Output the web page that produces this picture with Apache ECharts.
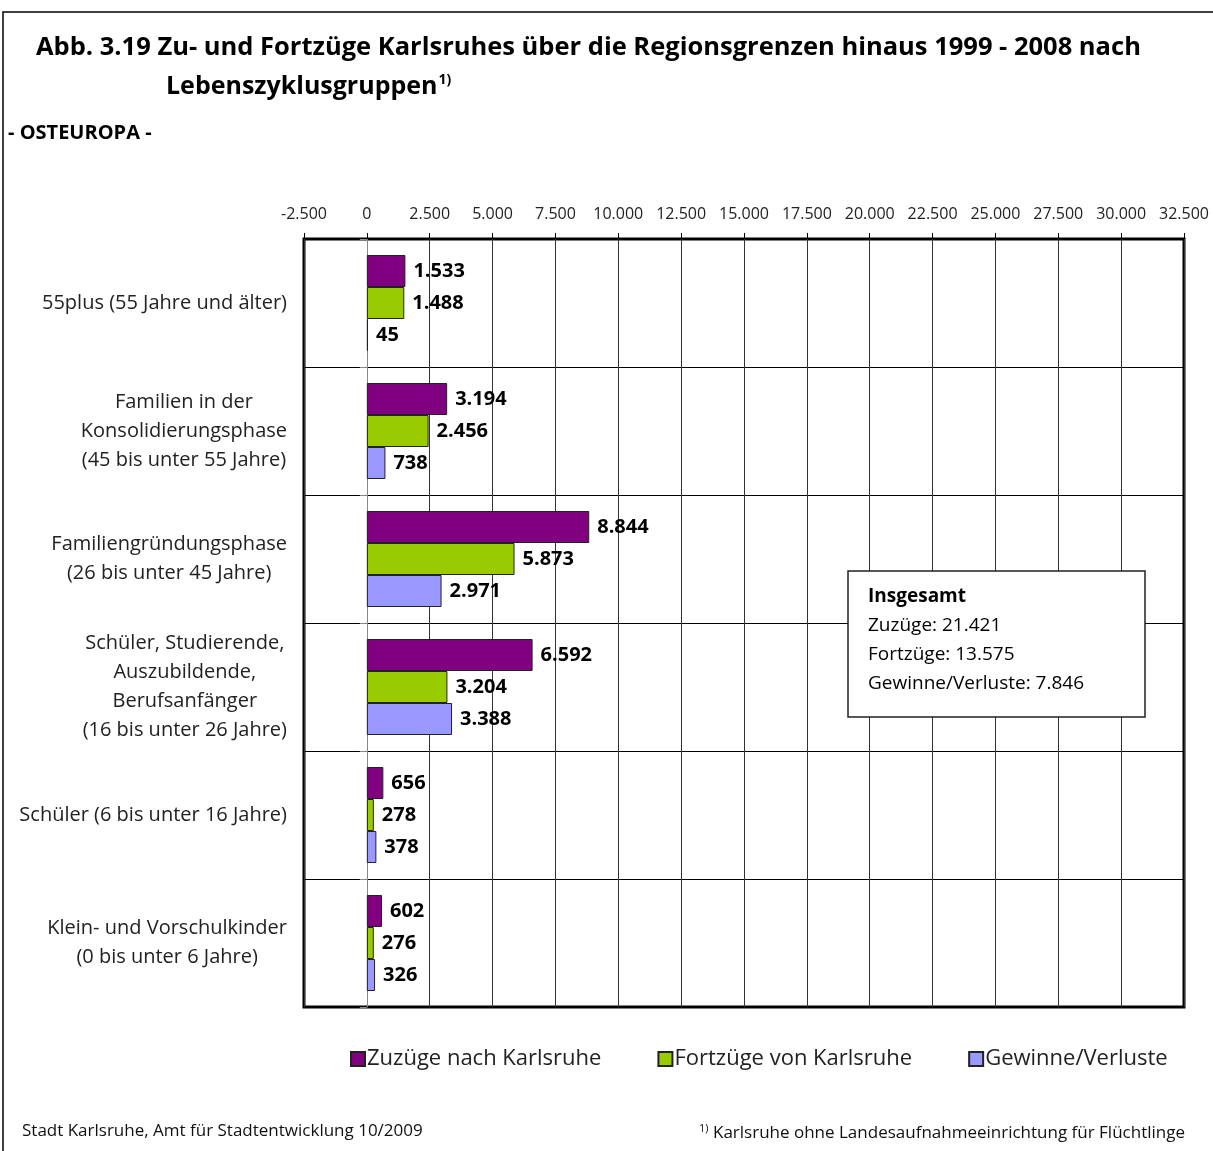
<!DOCTYPE html>
<html>
<head>
<meta charset="utf-8">
<script src="https://cdn.jsdelivr.net/npm/echarts@6/dist/echarts.min.js"></script>
<style>
  html, body { margin: 0; padding: 0; background: #fff; }
  #chart { width: 1213px; height: 1151px; }
</style>
</head>
<body>
<div id="chart"></div>
<script>
// Kategorien (von oben nach unten)
var categories = [
  '55plus (55 Jahre und älter)',
  'Familien in der\nKonsolidierungsphase\n(45 bis unter 55 Jahre)',
  'Familiengründungsphase\n(26 bis unter 45 Jahre)',
  'Schüler, Studierende,\nAuszubildende,\nBerufsanfänger\n(16 bis unter 26 Jahre)',
  'Schüler (6 bis unter 16 Jahre)',
  'Klein- und Vorschulkinder\n(0 bis unter 6 Jahre)'
];
var zuzuege  = [1533, 3194, 8844, 6592, 656, 602];
var fortzuege = [1488, 2456, 5873, 3204, 278, 276];
var saldo    = [45, 738, 2971, 3388, 378, 326];
var seriesNames = ['Zuzüge nach Karlsruhe', 'Fortzüge von Karlsruhe', 'Gewinne/Verluste'];
var xTicks = { min: -2500, max: 32500, step: 2500 };

function fmt(v) {
  var s = String(Math.abs(v)).replace(/\B(?=(\d{3})+(?!\d))/g, '.');
  return (v < 0 ? '-' : '') + s;
}
function sum(a) { return a.reduce(function (p, c) { return p + c; }, 0); }

var font = '"Open Sans", "Noto Sans", sans-serif';
var chart = echarts.init(document.getElementById('chart'));

function barSeries(name, data, color) {
  return {
    name: name,
    type: 'bar',
    data: data,
    barGap: '0%',
    barCategoryGap: '25%',
    barMinWidth: 2,
    itemStyle: { color: color, borderColor: '#222', borderWidth: 1 },
    label: {
      show: true,
      position: 'right',
      distance: 8,
      formatter: function (p) { return fmt(p.value); },
      fontFamily: font,
      fontSize: 20,
      fontWeight: 'bold',
      color: '#000'
    }
  };
}

chart.setOption({
  backgroundColor: '#fff',
  textStyle: { fontFamily: font },
  title: [
    {
      text: 'Abb. 3.19 Zu- und Fortzüge Karlsruhes über die Regionsgrenzen hinaus 1999 - 2008 nach',
      left: 31, top: 30,
      textStyle: { fontFamily: font, fontSize: 25.5, fontWeight: 'bold', color: '#000' }
    },
    {
      text: 'Lebenszyklusgruppen{sup|1)}',
      left: 161, top: 68,
      textStyle: {
        fontFamily: font, fontSize: 25, fontWeight: 'bold', color: '#000',
        rich: { sup: { fontSize: 14, fontWeight: 'bold', verticalAlign: 'top', padding: [0, 0, 14, 1], fontFamily: font } }
      }
    },
    {
      text: '- OSTEUROPA -',
      left: 3, top: 118,
      textStyle: { fontFamily: font, fontSize: 20, fontWeight: 'bold', color: '#000' }
    },
    {
      text: 'Stadt Karlsruhe, Amt für Stadtentwicklung 10/2009',
      left: 17, top: 1118,
      textStyle: { fontFamily: font, fontSize: 17, fontWeight: 'normal', color: '#111' }
    },
    {
      text: '{sup|1)} Karlsruhe ohne Landesaufnahmeeinrichtung für Flüchtlinge',
      right: 23, top: 1118,
      textStyle: {
        fontFamily: font, fontSize: 17, fontWeight: 'normal', color: '#111',
        rich: { sup: { fontSize: 11, verticalAlign: 'top', padding: [0, 0, 9, 0], fontFamily: font } }
      }
    }
  ],
  legend: {
    data: seriesNames,
    left: 345, top: 1043,
    width: 860,
    itemGap: 56,
    itemWidth: 14, itemHeight: 14,
    icon: 'rect',
    textStyle: { fontFamily: font, fontSize: 22, color: '#222', padding: [0, 0, 0, -3] }
  },
  grid: {
    left: 304, top: 239, width: 880, height: 768,
    outerBoundsMode: 'none',
    containLabel: false,
    show: true, borderColor: '#000', borderWidth: 3, backgroundColor: 'transparent'
  },
  xAxis: {
    type: 'value',
    position: 'top',
    min: xTicks.min, max: xTicks.max, interval: xTicks.step,
    axisLine: { show: false },
    axisTick: { show: true, inside: false, length: 6, lineStyle: { color: '#000' } },
    axisLabel: {
      margin: 17,
      fontFamily: font, fontSize: 16, color: '#222',
      formatter: fmt
    },
    splitLine: { show: true, lineStyle: { color: '#333', width: 1 } }
  },
  yAxis: {
    type: 'category',
    data: categories,
    inverse: true,
    axisLine: { show: true, onZero: true, lineStyle: { color: '#888', width: 1 } },
    axisTick: { show: true, length: 7, lineStyle: { color: '#888' } },
    splitLine: { show: true, lineStyle: { color: '#000', width: 1 } },
    axisLabel: {
      margin: 17,
      formatter: function (v) {
        return v.split('\n').map(function (l) { return '{c|' + l + '}'; }).join('\n');
      },
      rich: { c: { align: 'center', fontFamily: font, fontSize: 20, color: '#222', lineHeight: 29 } }
    }
  },
  series: [
    barSeries(seriesNames[0], zuzuege, '#800080'),
    barSeries(seriesNames[1], fortzuege, '#99cc00'),
    barSeries(seriesNames[2], saldo, '#9999ff')
  ],
  graphic: [
    {
      type: 'rect', z: 100, silent: true,
      shape: { x: 3, y: 12, width: 1240, height: 1200 },
      style: { fill: 'transparent', stroke: '#000', lineWidth: 1.5 }
    },
    {
      type: 'rect', z: 100,
      shape: { x: 848, y: 571, width: 297, height: 146 },
      style: { fill: '#fff', stroke: '#222', lineWidth: 1.5 }
    },
    {
      type: 'text', z: 101,
      x: 868, y: 582,
      style: {
        text: '{b|Insgesamt}\n{n|Zuzüge: ' + fmt(sum(zuzuege)) + '}\n{n|Fortzüge: ' + fmt(sum(fortzuege)) +
              '}\n{n|Gewinne/Verluste: ' + fmt(sum(saldo)) + '}',
        rich: {
          b: { fontFamily: font, fontSize: 19, fontWeight: 'bold', color: '#000', lineHeight: 29 },
          n: { fontFamily: font, fontSize: 19, color: '#111', lineHeight: 29 }
        }
      }
    }
  ]
});
</script>
</body>
</html>
